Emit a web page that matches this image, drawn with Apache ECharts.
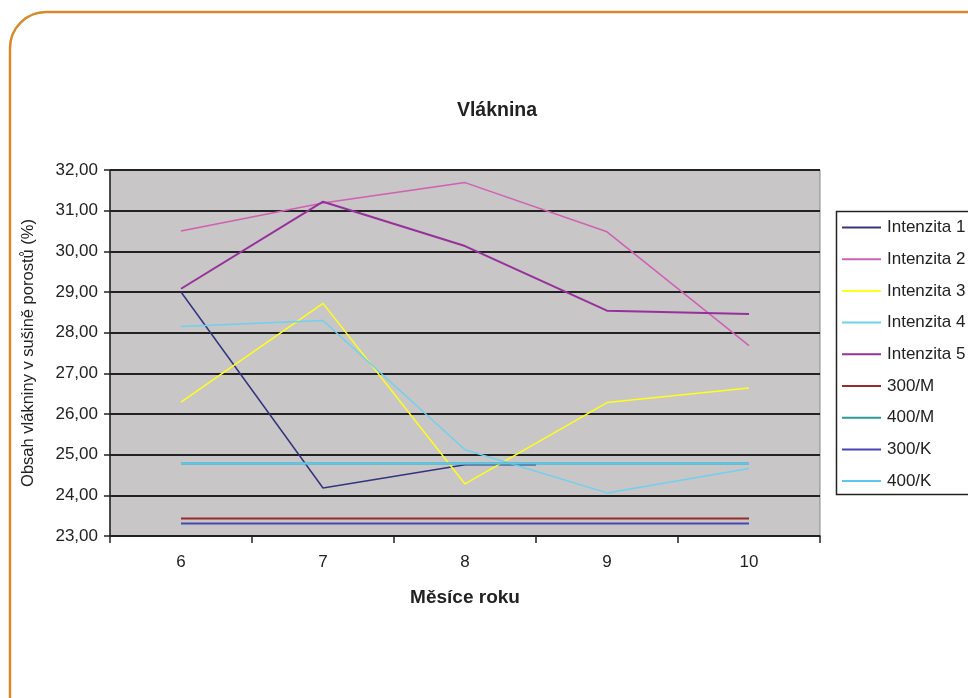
<!DOCTYPE html>
<html>
<head>
<meta charset="utf-8">
<script src="https://cdn.jsdelivr.net/npm/echarts@6/dist/echarts.min.js"></script>
<style>
  html, body { margin: 0; padding: 0; background: #ffffff; }
  #chart { width: 968px; height: 698px; }
</style>
</head>
<body>
<div id="chart"></div>
<script>
// Months shown on the category axis
const months = [6, 7, 8, 9, 10];

// Fibre content (%) per intensity, by month
const intenzita1Months = [6, 7, 8, 8.5];
const intenzita1 = [29.00, 24.18, 24.75, 24.75];
const intenzita2 = [30.50, 31.19, 31.69, 30.48, 27.68];
const intenzita3 = [26.29, 28.72, 24.28, 26.28, 26.64];
const intenzita4 = [28.15, 28.30, 25.12, 24.06, 24.66];
const intenzita5 = [29.08, 31.22, 30.13, 28.54, 28.46];

// Reference levels
const ref300M = [23.43, 23.43, 23.43, 23.43, 23.43];
const ref400M = [24.78, 24.78, 24.78, 24.78, 24.78];
const ref300K = [23.31, 23.31, 23.31, 23.31, 23.31];
const ref400K = [24.78, 24.78, 24.78, 24.78, 24.78];

const yTicks = { min: 23, max: 32, interval: 1 };

const FONT = '"Liberation Sans", Arial, sans-serif';

function pairs(xs, ys) { return ys.map((v, i) => [xs[i], v]); }

function lineSeries(name, xs, ys, color, width) {
  return {
    name: name,
    type: 'line',
    xAxisIndex: 1,
    data: pairs(xs, ys),
    symbol: 'none',
    lineStyle: { color: color, width: width || 1.5 },
    itemStyle: { color: color },
    emphasis: { disabled: true },
    animation: false
  };
}

const chart = echarts.init(document.getElementById('chart'), null, { renderer: 'canvas' });

chart.setOption({
  backgroundColor: '#ffffff',
  animation: false,
  title: {
    text: 'Vláknina',
    left: 492,
    top: 96,
    textAlign: 'center',
    textStyle: { fontFamily: FONT, fontSize: 19.5, fontWeight: 'bold', color: '#222' }
  },
  graphic: [
    {
      type: 'rect',
      shape: { x: 10, y: 12, width: 1000, height: 730, r: 36 },
      style: { fill: null, stroke: '#d8892a', lineWidth: 2.5 },
      z: 100
    },
    {
      type: 'rect',
      shape: { x: 836.5, y: 211.5, width: 160, height: 283 },
      style: { fill: '#ffffff', stroke: '#222', lineWidth: 1.5 },
      z: 1
    }
  ],
  legend: {
    orient: 'vertical',
    left: 842,
    top: 218,
    padding: 0,
    icon: 'rect',
    itemWidth: 39,
    itemHeight: 2,
    itemGap: 12.7,
    textStyle: { fontFamily: FONT, fontSize: 17, lineHeight: 19, color: '#222', padding: [0, 0, 0, 1] },
    data: ['Intenzita 1', 'Intenzita 2', 'Intenzita 3', 'Intenzita 4', 'Intenzita 5',
           '300/M', '400/M', '300/K', '400/K'],
    z: 5
  },
  grid: {
    left: 110,
    right: 148,
    top: 170,
    bottom: 162,
    show: true,
    backgroundColor: '#c8c6c6',
    borderColor: '#8a8a8a',
    borderWidth: 1
  },
  xAxis: [
    {
      type: 'category',
      data: months.map(String),
      boundaryGap: true,
      name: 'Měsíce roku',
      nameLocation: 'middle',
      nameGap: 52,
      nameTextStyle: { fontFamily: FONT, fontSize: 19, fontWeight: 'bold', color: '#222' },
      axisLine: { lineStyle: { color: '#222', width: 1.5 } },
      axisTick: { show: true, length: 7, lineStyle: { color: '#222', width: 1.5 } },
      axisLabel: { fontFamily: FONT, fontSize: 17, color: '#222', margin: 18 },
      splitLine: { show: false }
    },
    {
      type: 'value',
      min: 5.5,
      max: 10.5,
      show: false
    }
  ],
  yAxis: {
    type: 'value',
    min: yTicks.min,
    max: yTicks.max,
    interval: yTicks.interval,
    name: 'Obsah vlákniny v sušině porostů (%)',
    nameLocation: 'middle',
    nameGap: 73,
    nameTextStyle: { fontFamily: FONT, fontSize: 16.5, color: '#222' },
    axisLine: { show: true, lineStyle: { color: '#222', width: 1.5 } },
    axisTick: { show: true, length: 6, lineStyle: { color: '#222', width: 1.5 } },
    axisLabel: {
      fontFamily: FONT, fontSize: 17, color: '#222', margin: 12,
      formatter: v => v.toFixed(2).replace('.', ',')
    },
    splitLine: { show: true, lineStyle: { color: '#222', width: 2 } }
  },
  series: [
    lineSeries('Intenzita 1', intenzita1Months, intenzita1, '#34347e'),
    lineSeries('Intenzita 2', months, intenzita2, '#d060b4'),
    lineSeries('Intenzita 3', months, intenzita3, '#ffff1a'),
    lineSeries('Intenzita 4', months, intenzita4, '#70d0ee'),
    lineSeries('Intenzita 5', months, intenzita5, '#96309a', 2),
    lineSeries('300/M', months, ref300M, '#9a2a2a', 2),
    lineSeries('400/M', months, ref400M, '#2d9a96', 2),
    lineSeries('300/K', months, ref300K, '#4646b4', 2),
    lineSeries('400/K', months, ref400K, '#5cc8ee', 2)
  ]
});
</script>
</body>
</html>
